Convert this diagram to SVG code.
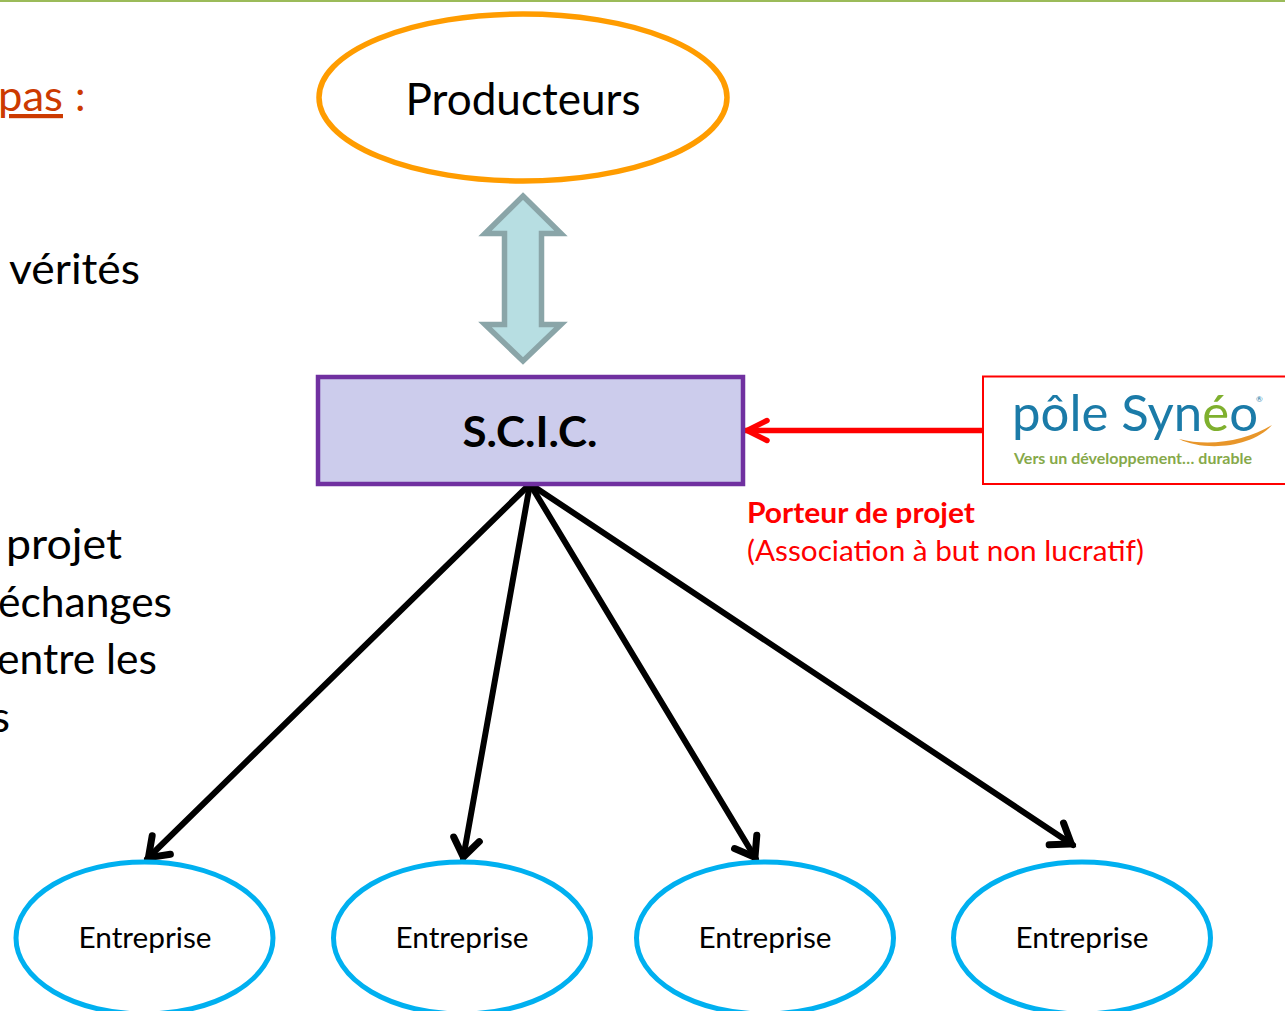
<svg xmlns="http://www.w3.org/2000/svg" width="1285" height="1011" viewBox="0 0 1285 1011">
<style>
text{font-family:Lato,"Open Sans","Liberation Sans",sans-serif}
.side{font-size:42px;fill:#000}
.ent{fill:#fff;stroke:#00b0f0;stroke-width:5}
.entl{font-size:29px;fill:#000;text-anchor:middle}
.con{fill:none;stroke:#000;stroke-width:6;stroke-linecap:round;stroke-linejoin:round}
</style>
<defs>
<marker id="ah" markerUnits="userSpaceOnUse" markerWidth="34" markerHeight="34" viewBox="-28 -17 34 34" refX="0" refY="0" orient="auto"><path d="M-20-13L-2 0L-20 13" fill="none" stroke="#000" stroke-width="7" stroke-linecap="round" stroke-linejoin="miter"/></marker>
<marker id="ahr" markerUnits="userSpaceOnUse" markerWidth="30" markerHeight="30" viewBox="-26 -15 30 30" refX="0" refY="0" orient="auto"><path d="M-22-10L-2 0L-22 10" fill="none" stroke="#f00" stroke-width="5.5" stroke-linecap="round"/></marker>
</defs>
<rect width="1285" height="1011" fill="#fff"/>
<rect width="1285" height="2" fill="#9bbb59"/>
<g id="side-text">
<text x="-2" y="111" font-size="42" fill="#cc3a00" text-decoration="underline" textLength="65" lengthAdjust="spacingAndGlyphs">pas</text>
<text x="75" y="111" font-size="42" fill="#cc3a00">:</text>
<text class="side" x="9" y="284" textLength="131" lengthAdjust="spacingAndGlyphs">vérités</text>
<text class="side" x="6" y="559" textLength="116" lengthAdjust="spacingAndGlyphs">projet</text>
<text class="side" x="-2" y="617" textLength="174" lengthAdjust="spacingAndGlyphs">échanges</text>
<text class="side" x="-3" y="674" textLength="160" lengthAdjust="spacingAndGlyphs">entre les</text>
<text class="side" x="-9" y="732" textLength="19" lengthAdjust="spacingAndGlyphs">s</text>
</g>
<g id="connectors">
<path class="con" marker-end="url(#ah)" d="M530 484L147 859"/>
<path class="con" marker-end="url(#ah)" d="M530 484L463 859"/>
<path class="con" marker-end="url(#ah)" d="M530 484L756 859"/>
<path class="con" marker-end="url(#ah)" d="M530 484L1073 845"/>
<path fill="none" stroke="#f00" stroke-width="5.500" marker-end="url(#ahr)" d="M984 430.500H745"/>
<path id="double-arrow" d="M523 196L561 233.500H541.500V324.500H561L523 361L485 324.500H504.500V233.500H485Z" fill="#b7dee2" stroke="#8aa5a8" stroke-width="5.500"/>
</g>
<g id="producteurs">
<ellipse cx="523" cy="97.500" rx="204" ry="83.500" fill="#fff" stroke="#ff9c00" stroke-width="5.500"/>
<text x="523" y="115" font-size="44" fill="#000" text-anchor="middle" textLength="235" lengthAdjust="spacingAndGlyphs">Producteurs</text>
</g>
<g id="scic">
<rect x="318" y="377" width="425" height="107" fill="#ccccec" stroke="#7030a0" stroke-width="4.500"/>
<text x="530" y="447" font-size="42" font-weight="700" fill="#000" text-anchor="middle" textLength="135" lengthAdjust="spacingAndGlyphs">S.C.I.C.</text>
</g>
<g id="pole-syneo">
<rect x="983" y="376.500" width="310" height="107.500" fill="#fff" stroke="#f00" stroke-width="2"/>
<path d="M1179 439C1210 447 1245 441 1272 425C1250 449 1203 451 1179 439Z" fill="#e8962a"/>
<text x="1012" y="431" font-size="51" fill="#1b7ba8" textLength="246" lengthAdjust="spacingAndGlyphs">pôle Syn<tspan fill="#7fb02e">é</tspan>o</text>
<text x="1256" y="402" font-size="8" fill="#1b7ba8">®</text>
<text x="1014" y="464" font-size="15" font-weight="700" fill="#86a94a" textLength="238" lengthAdjust="spacingAndGlyphs">Vers un développement… durable</text>
</g>
<g id="porteur">
<text x="747" y="523" font-size="29" font-weight="700" fill="#f00" textLength="228" lengthAdjust="spacingAndGlyphs">Porteur de projet</text>
<text x="747" y="561" font-size="29" fill="#f00" textLength="397" lengthAdjust="spacingAndGlyphs">(Association à but non lucratif)</text>
</g>
<g id="entreprise-1"><ellipse class="ent" cx="144.500" cy="938" rx="128.500" ry="76"/><text class="entl" x="145" y="948" textLength="133" lengthAdjust="spacingAndGlyphs">Entreprise</text></g>
<g id="entreprise-2"><ellipse class="ent" cx="462" cy="938" rx="128.500" ry="76"/><text class="entl" x="462" y="948" textLength="133" lengthAdjust="spacingAndGlyphs">Entreprise</text></g>
<g id="entreprise-3"><ellipse class="ent" cx="765" cy="938" rx="128.500" ry="76"/><text class="entl" x="765" y="948" textLength="133" lengthAdjust="spacingAndGlyphs">Entreprise</text></g>
<g id="entreprise-4"><ellipse class="ent" cx="1082" cy="938" rx="128.500" ry="76"/><text class="entl" x="1082" y="948" textLength="133" lengthAdjust="spacingAndGlyphs">Entreprise</text></g>
</svg>
